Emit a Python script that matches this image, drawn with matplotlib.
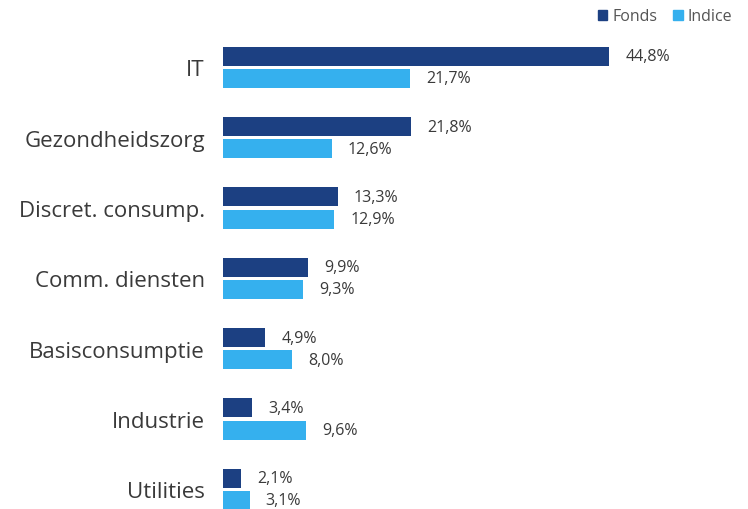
import matplotlib.pyplot as plt
import numpy as np
from matplotlib.patches import Patch

categories = ["IT", "Gezondheidszorg", "Discret. consump.", "Comm. diensten",
              "Basisconsumptie", "Industrie", "Utilities"]
fonds = [44.8, 21.8, 13.3, 9.9, 4.9, 3.4, 2.1]
indice = [21.7, 12.6, 12.9, 9.3, 8.0, 9.6, 3.1]
series_names = ["Fonds", "Indice"]

plt.rcParams['font.family'] = ['Open Sans', 'DejaVu Sans']
c_fonds = "#1c4082"
c_indice = "#35b0ee"
txt = "#3a3a3a"

fig = plt.figure(figsize=(7.48, 5.10), dpi=100)
W, H = 748, 510
# axes in pixel coordinates: left 223, right 740, top 30, bottom 510
ax = fig.add_axes([223 / W, 0, (740 - 223) / W, (510 - 30) / H])

y = np.arange(len(categories))
h = 0.27
off = 0.157
ax.barh(y - off, fonds, height=h, color=c_fonds)
ax.barh(y + off, indice, height=h, color=c_indice)

xmax = 517 / 8.62
ax.set_xlim(0, xmax)
ax.set_ylim(6.28, -0.545)

for yi, v in zip(y - off, fonds):
    ax.text(v + 16 / 8.62, yi, f"{v:.1f}%".replace(".", ","), va="center",
            ha="left", fontsize=11.5, color=txt)
for yi, v in zip(y + off, indice):
    ax.text(v + 16 / 8.62, yi, f"{v:.1f}%".replace(".", ","), va="center",
            ha="left", fontsize=11.5, color=txt)

ax.set_yticks(y)
ax.set_yticklabels(categories, fontsize=16, color=txt)
ax.tick_params(axis="y", length=0, pad=13)
ax.set_xticks([])
for s in ax.spines.values():
    s.set_visible(False)

handles = [Patch(color=c_fonds), Patch(color=c_indice)]
fig.legend(handles, series_names, loc="upper right", bbox_to_anchor=(0.998, 1.01),
           ncol=2, frameon=False, fontsize=11.5, labelcolor="#555555",
           handlelength=0.6, handleheight=0.6, handletextpad=0.3, columnspacing=1.0)

fig.savefig("out.png", dpi=100)
